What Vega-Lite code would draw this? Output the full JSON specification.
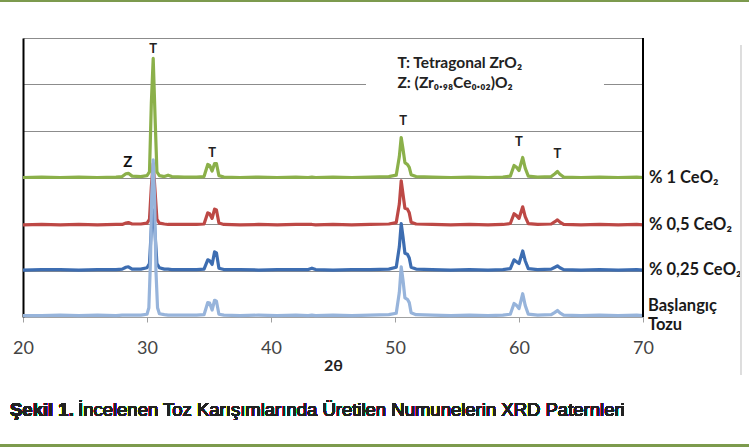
{
  "$schema": "https://vega.github.io/schema/vega-lite/v6.json",
  "width": 620,
  "height": 279,
  "autosize": {"type": "none"},
  "padding": {"left": 23, "top": 38, "right": 106, "bottom": 131},
  "background": "white",
  "config": {"view": {"stroke": null}, "font": "Lato"},
  "datasets": {
    "c1": [
      {"x":20,"y":3.00},{"x":21.5,"y":3.01},{"x":23,"y":3.00},{"x":24.5,"y":3.01},{"x":26,"y":3.00},{"x":27.5,"y":3.01},{"x":28.0,"y":3.02},{"x":28.3,"y":3.08},{"x":28.5,"y":3.09},{"x":28.8,"y":3.03},{"x":29.5,"y":3.02},{"x":30.0,"y":3.04},{"x":30.2,"y":3.12},{"x":30.35,"y":4.6},{"x":30.5,"y":5.56},{"x":30.65,"y":4.3},{"x":30.8,"y":3.12},{"x":31.0,"y":3.04},{"x":31.4,"y":3.02},{"x":31.7,"y":3.05},{"x":32.0,"y":3.02},{"x":33,"y":3.01},{"x":34,"y":3.01},{"x":34.6,"y":3.02},{"x":34.9,"y":3.28},{"x":35.05,"y":3.26},{"x":35.25,"y":3.14},{"x":35.45,"y":3.30},{"x":35.6,"y":3.30},{"x":35.8,"y":3.04},{"x":36.2,"y":3.01},{"x":37.5,"y":3.00},{"x":39,"y":3.01},{"x":40.5,"y":3.00},{"x":42,"y":3.01},{"x":43,"y":3.00},{"x":43.3,"y":3.01},{"x":43.6,"y":3.00},{"x":45,"y":3.01},{"x":46.5,"y":3.00},{"x":48,"y":3.01},{"x":49.5,"y":3.02},{"x":50.1,"y":3.05},{"x":50.35,"y":3.45},{"x":50.5,"y":3.86},{"x":50.65,"y":3.6},{"x":50.8,"y":3.32},{"x":51.0,"y":3.28},{"x":51.15,"y":3.22},{"x":51.3,"y":3.06},{"x":51.7,"y":3.02},{"x":53,"y":3.01},{"x":54.5,"y":3.00},{"x":56,"y":3.01},{"x":57.5,"y":3.00},{"x":58.7,"y":3.01},{"x":59.3,"y":3.03},{"x":59.6,"y":3.26},{"x":59.8,"y":3.22},{"x":60.0,"y":3.15},{"x":60.3,"y":3.43},{"x":60.5,"y":3.2},{"x":60.75,"y":3.03},{"x":61.5,"y":3.01},{"x":62.6,"y":3.02},{"x":62.9,"y":3.08},{"x":63.1,"y":3.13},{"x":63.3,"y":3.07},{"x":63.6,"y":3.01},{"x":65,"y":3.00},{"x":66.5,"y":3.01},{"x":68,"y":3.00},{"x":69.5,"y":3.01},{"x":70,"y":3.00}
    ],
    "c05": [
      {"x":20,"y":1.98},{"x":21.5,"y":1.99},{"x":23,"y":1.98},{"x":24.5,"y":1.99},{"x":26,"y":1.98},{"x":27.5,"y":1.99},{"x":28.0,"y":1.99},{"x":28.3,"y":2.02},{"x":28.5,"y":2.03},{"x":28.8,"y":2.00},{"x":29.5,"y":2.00},{"x":30.0,"y":2.02},{"x":30.2,"y":2.10},{"x":30.35,"y":2.8},{"x":30.5,"y":3.3},{"x":30.65,"y":2.7},{"x":30.8,"y":2.10},{"x":31.0,"y":2.02},{"x":31.4,"y":2.00},{"x":31.7,"y":1.99},{"x":32.0,"y":1.99},{"x":33,"y":1.99},{"x":34,"y":1.99},{"x":34.6,"y":2.00},{"x":34.9,"y":2.24},{"x":35.05,"y":2.22},{"x":35.25,"y":2.12},{"x":35.45,"y":2.32},{"x":35.6,"y":2.30},{"x":35.8,"y":2.02},{"x":36.2,"y":1.99},{"x":37.5,"y":1.98},{"x":39,"y":1.99},{"x":40.5,"y":1.98},{"x":42,"y":1.99},{"x":43,"y":1.99},{"x":43.3,"y":1.99},{"x":43.6,"y":1.98},{"x":45,"y":1.99},{"x":46.5,"y":1.98},{"x":48,"y":1.99},{"x":49.5,"y":2.00},{"x":50.1,"y":2.03},{"x":50.35,"y":2.43},{"x":50.5,"y":2.93},{"x":50.65,"y":2.63},{"x":50.8,"y":2.34},{"x":51.0,"y":2.32},{"x":51.15,"y":2.24},{"x":51.3,"y":2.04},{"x":51.7,"y":2.00},{"x":53,"y":1.99},{"x":54.5,"y":1.98},{"x":56,"y":1.99},{"x":57.5,"y":1.98},{"x":58.7,"y":1.99},{"x":59.3,"y":2.01},{"x":59.6,"y":2.22},{"x":59.8,"y":2.18},{"x":60.0,"y":2.12},{"x":60.3,"y":2.37},{"x":60.5,"y":2.16},{"x":60.75,"y":2.01},{"x":61.5,"y":1.99},{"x":62.6,"y":2.00},{"x":62.9,"y":2.05},{"x":63.1,"y":2.09},{"x":63.3,"y":2.04},{"x":63.6,"y":1.99},{"x":65,"y":1.98},{"x":66.5,"y":1.99},{"x":68,"y":1.98},{"x":69.5,"y":1.99},{"x":70,"y":1.98}
    ],
    "c025": [
      {"x":20,"y":1.01},{"x":21.5,"y":1.02},{"x":23,"y":1.02},{"x":24.5,"y":1.01},{"x":26,"y":1.02},{"x":27.5,"y":1.02},{"x":28.0,"y":1.03},{"x":28.3,"y":1.07},{"x":28.5,"y":1.08},{"x":28.8,"y":1.03},{"x":29.5,"y":1.03},{"x":30.0,"y":1.06},{"x":30.2,"y":1.15},{"x":30.35,"y":1.9},{"x":30.5,"y":2.3},{"x":30.65,"y":1.8},{"x":30.8,"y":1.15},{"x":31.0,"y":1.06},{"x":31.4,"y":1.03},{"x":31.7,"y":1.03},{"x":32.0,"y":1.02},{"x":33,"y":1.02},{"x":34,"y":1.02},{"x":34.6,"y":1.03},{"x":34.9,"y":1.23},{"x":35.05,"y":1.21},{"x":35.25,"y":1.13},{"x":35.45,"y":1.40},{"x":35.6,"y":1.38},{"x":35.8,"y":1.05},{"x":36.2,"y":1.02},{"x":37.5,"y":1.02},{"x":39,"y":1.01},{"x":40.5,"y":1.02},{"x":42,"y":1.02},{"x":43,"y":1.02},{"x":43.3,"y":1.05},{"x":43.6,"y":1.02},{"x":45,"y":1.01},{"x":46.5,"y":1.02},{"x":48,"y":1.02},{"x":49.5,"y":1.03},{"x":50.1,"y":1.07},{"x":50.35,"y":1.51},{"x":50.5,"y":2.01},{"x":50.65,"y":1.71},{"x":50.8,"y":1.37},{"x":51.0,"y":1.35},{"x":51.15,"y":1.27},{"x":51.3,"y":1.07},{"x":51.7,"y":1.03},{"x":53,"y":1.02},{"x":54.5,"y":1.01},{"x":56,"y":1.02},{"x":57.5,"y":1.01},{"x":58.7,"y":1.02},{"x":59.3,"y":1.04},{"x":59.6,"y":1.23},{"x":59.8,"y":1.19},{"x":60.0,"y":1.15},{"x":60.3,"y":1.42},{"x":60.5,"y":1.21},{"x":60.75,"y":1.04},{"x":61.5,"y":1.02},{"x":62.6,"y":1.03},{"x":62.9,"y":1.07},{"x":63.1,"y":1.10},{"x":63.3,"y":1.06},{"x":63.6,"y":1.02},{"x":65,"y":1.01},{"x":66.5,"y":1.02},{"x":68,"y":1.01},{"x":69.5,"y":1.02},{"x":70,"y":1.01}
    ],
    "tozu": [
      {"x":20,"y":0.03},{"x":21.5,"y":0.03},{"x":23,"y":0.04},{"x":24.5,"y":0.03},{"x":26,"y":0.04},{"x":27.5,"y":0.03},{"x":28.0,"y":0.04},{"x":28.3,"y":0.04},{"x":28.5,"y":0.04},{"x":28.8,"y":0.04},{"x":29.5,"y":0.04},{"x":30.0,"y":0.06},{"x":30.15,"y":0.2},{"x":30.28,"y":1.2},{"x":30.38,"y":2.6},{"x":30.5,"y":3.38},{"x":30.62,"y":2.5},{"x":30.72,"y":1.0},{"x":30.85,"y":0.2},{"x":31.0,"y":0.07},{"x":31.4,"y":0.05},{"x":31.7,"y":0.04},{"x":32.0,"y":0.04},{"x":33,"y":0.04},{"x":34,"y":0.04},{"x":34.6,"y":0.05},{"x":34.9,"y":0.31},{"x":35.05,"y":0.30},{"x":35.25,"y":0.15},{"x":35.45,"y":0.36},{"x":35.6,"y":0.34},{"x":35.8,"y":0.06},{"x":36.2,"y":0.04},{"x":37.5,"y":0.03},{"x":39,"y":0.04},{"x":40.5,"y":0.03},{"x":42,"y":0.04},{"x":43,"y":0.03},{"x":43.3,"y":0.04},{"x":43.6,"y":0.03},{"x":45,"y":0.04},{"x":46.5,"y":0.03},{"x":48,"y":0.04},{"x":49.5,"y":0.05},{"x":50.1,"y":0.08},{"x":50.35,"y":0.53},{"x":50.5,"y":1.08},{"x":50.65,"y":0.78},{"x":50.8,"y":0.41},{"x":51.0,"y":0.38},{"x":51.15,"y":0.31},{"x":51.3,"y":0.09},{"x":51.7,"y":0.05},{"x":53,"y":0.04},{"x":54.5,"y":0.03},{"x":56,"y":0.04},{"x":57.5,"y":0.03},{"x":58.7,"y":0.04},{"x":59.3,"y":0.06},{"x":59.6,"y":0.29},{"x":59.8,"y":0.25},{"x":60.0,"y":0.18},{"x":60.3,"y":0.50},{"x":60.5,"y":0.25},{"x":60.75,"y":0.06},{"x":61.5,"y":0.04},{"x":62.6,"y":0.05},{"x":62.9,"y":0.10},{"x":63.1,"y":0.14},{"x":63.3,"y":0.09},{"x":63.6,"y":0.04},{"x":65,"y":0.03},{"x":66.5,"y":0.04},{"x":68,"y":0.03},{"x":69.5,"y":0.04},{"x":70,"y":0.03}
    ],
    "peaks": [
      {"x":30.5,"y":5.76,"t":"T"},{"x":35.25,"y":3.53,"t":"T"},{"x":50.65,"y":4.22,"t":"T"},{"x":60.0,"y":3.76,"t":"T"},{"x":63.1,"y":3.5,"t":"T"},{"x":28.45,"y":3.33,"t":"Z"}
    ],
    "key": [
      {"x":50.2,"y":5.46,"t":"T: Tetragonal ZrO₂"},{"x":50.2,"y":5.03,"t":"Z: (Zr₀.₉₈Ce₀.₀₂)O₂"}
    ],
    "names": [
      {"n":" % 1 CeO₂","y":3.0},{"n":"% 0,5 CeO₂","y":1.98},{"n":"% 0,25 CeO₂","y":1.01}
    ],
    "start": [
      {"n":"Başlangıç\nTozu","y":0.03}
    ]
  },
  "layer": [
    {
      "data": {"name": "tozu"},
      "mark": {"type": "rect", "color": "white"},
      "encoding": {
        "x": {"datum": 47.7, "type": "quantitative", "scale": {"domain": [20, 70], "nice": false, "zero": false},
          "axis": {"values": [20,30,40,50,60,70], "title": "2θ", "grid": false, "domainColor": "#a0a0a0", "tickColor": "#a0a0a0", "tickSize": 5, "labelFlush": false, "labelOverlap": false, "labelFont": "Lato", "labelFontSize": 18, "labelColor": "#444444", "labelPadding": 17, "titleFont": "Lato", "titleFontSize": 16, "titleFontWeight": "bold", "titleColor": "#222222", "titlePadding": 0}},
        "x2": {"datum": 66.8},
        "y": {"datum": 4.65, "type": "quantitative", "scale": {"domain": [0, 6], "nice": false, "zero": false},
          "axis": {"values": [0,1,2,3,4,5,6], "labels": false, "ticks": false, "title": null, "domainColor": "black", "domainWidth": 2, "grid": true, "gridColor": "#8c8c8c", "gridWidth": 1}},
        "y2": {"datum": 5.85}
      }
    },
    {"data": {"name": "c025"}, "mark": {"type": "line", "color": "#3D6DB1", "strokeWidth": 3.2, "strokeJoin": "round"},
      "encoding": {"x": {"field": "x", "type": "quantitative"}, "y": {"field": "y", "type": "quantitative"}}},
    {"data": {"name": "c05"}, "mark": {"type": "line", "color": "#BD4845", "strokeWidth": 3.2, "strokeJoin": "round"},
      "encoding": {"x": {"field": "x", "type": "quantitative"}, "y": {"field": "y", "type": "quantitative"}}},
    {"data": {"name": "c1"}, "mark": {"type": "line", "color": "#8BB04A", "strokeWidth": 3.2, "strokeJoin": "round"},
      "encoding": {"x": {"field": "x", "type": "quantitative"}, "y": {"field": "y", "type": "quantitative"}}},
    {"data": {"name": "tozu"}, "mark": {"type": "line", "color": "#97B4DB", "strokeWidth": 3.2, "strokeJoin": "round"},
      "encoding": {"x": {"field": "x", "type": "quantitative"}, "y": {"field": "y", "type": "quantitative"}}},
    {"data": {"name": "tozu"}, "mark": {"type": "rule", "color": "black", "strokeWidth": 2},
      "encoding": {"x": {"datum": 70}}},
    {"data": {"name": "peaks"}, "transform": [{"filter": "datum.t === 'T'"}],
      "mark": {"type": "text", "font": "Lato", "fontSize": 13, "fontWeight": "bold", "color": "#222222"},
      "encoding": {"x": {"field": "x", "type": "quantitative"}, "y": {"field": "y", "type": "quantitative"}, "text": {"field": "t"}}},
    {"data": {"name": "peaks"}, "transform": [{"filter": "datum.t === 'Z'"}],
      "mark": {"type": "text", "font": "Lato", "fontSize": 15, "fontWeight": "bold", "color": "#111111"},
      "encoding": {"x": {"field": "x", "type": "quantitative"}, "y": {"field": "y", "type": "quantitative"}, "text": {"field": "t"}}},
    {"data": {"name": "key"},
      "mark": {"type": "text", "font": "Lato", "fontSize": 15.5, "fontWeight": "bold", "color": "#222222", "align": "left"},
      "encoding": {"x": {"field": "x", "type": "quantitative"}, "y": {"field": "y", "type": "quantitative"}, "text": {"field": "t"}}},
    {"data": {"name": "names"},
      "mark": {"type": "text", "font": "Lato", "fontSize": 16.5, "fontWeight": "bold", "color": "#1a1a1a", "align": "left", "dx": 6},
      "encoding": {"x": {"datum": 70}, "y": {"field": "y", "type": "quantitative"}, "text": {"field": "n"}}},
    {"data": {"name": "start"},
      "mark": {"type": "text", "font": "Lato", "fontSize": 16.5, "fontWeight": "bold", "color": "#1a1a1a", "align": "left", "dx": 5, "dy": -10, "lineBreak": "\n", "lineHeight": 19},
      "encoding": {"x": {"datum": 70}, "y": {"field": "y", "type": "quantitative"}, "text": {"field": "n"}}},
    {"data": {"name": "tozu"},
      "mark": {"type": "text", "font": "Liberation Sans", "fontSize": 18.5, "fontWeight": "bold", "color": "#222222", "align": "left", "dx": -13, "text": "Şekil 1."},
      "encoding": {"x": {"datum": 20}, "y": {"datum": -2}}},
    {"data": {"name": "tozu"},
      "mark": {"type": "text", "font": "Liberation Sans", "fontSize": 18.5, "color": "#222222", "align": "left", "dx": 55, "text": "İncelenen Toz Karışımlarında Üretilen Numunelerin XRD Paternleri"},
      "encoding": {"x": {"datum": 20}, "y": {"datum": -2}}},
    {"data": {"name": "tozu"}, "mark": {"type": "rule", "color": "#7C9A4E", "strokeWidth": 2},
      "encoding": {"x": {"datum": 18.1}, "x2": {"datum": 78.6}, "y": {"datum": 6.8}}},
    {"data": {"name": "tozu"}, "mark": {"type": "rule", "color": "#7C9A4E", "strokeWidth": 2},
      "encoding": {"x": {"datum": 18.1}, "x2": {"datum": 78.6}, "y": {"datum": -2.77}}},
    {"data": {"name": "tozu"}, "mark": {"type": "rule", "color": "#dddddd", "strokeWidth": 1},
      "encoding": {"x": {"datum": 77.9}, "y": {"datum": 5.85}, "y2": {"datum": -1.24}}}
  ]
}
